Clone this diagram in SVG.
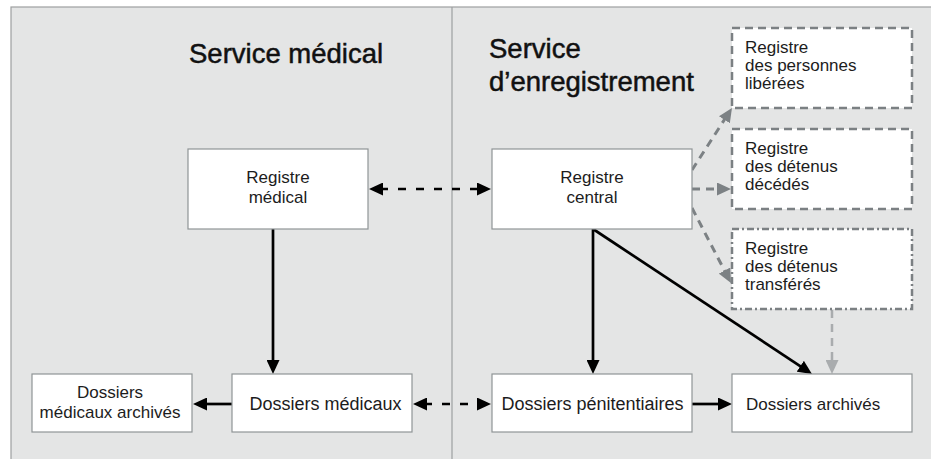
<svg xmlns="http://www.w3.org/2000/svg" width="931" height="459" viewBox="0 0 931 459">
  <defs>
    <style>
      .box { fill: #ffffff; stroke: #8f9496; stroke-width: 1.2; }
      .dbox { fill: #ffffff; stroke: #7b8083; stroke-width: 2.5; stroke-dasharray: 8 5; }
      .ddbox { fill: #ffffff; stroke: #7b8083; stroke-width: 2.5; stroke-dasharray: 7 3 2 3; }
      .t { font-family: "Liberation Sans", Arial, sans-serif; font-size: 17px; fill: #1c1c1c; }
      .title { font-family: "Liberation Sans", Arial, sans-serif; font-size: 27.5px; fill: #111; stroke: #111; stroke-width: 0.5; }
      .solid { fill: none; stroke: #000; stroke-width: 2.7; }
      .bdash { fill: none; stroke: #000; stroke-width: 2.7; stroke-dasharray: 8 10; }
      .gdash { fill: none; stroke: #7c8184; stroke-width: 3; stroke-dasharray: 8 6; }
      .ldash { fill: none; stroke: #a9acae; stroke-width: 2.5; stroke-dasharray: 8 6; }
    </style>
    <marker id="ab" markerUnits="userSpaceOnUse" markerWidth="14" markerHeight="13" refX="3" refY="6.5" orient="auto-start-reverse" viewBox="0 0 14 13">
      <path d="M0,0 L14,6.5 L0,13 z" fill="#000"/>
    </marker>
    <marker id="ag" markerUnits="userSpaceOnUse" markerWidth="14" markerHeight="13" refX="3" refY="6.5" orient="auto" viewBox="0 0 14 13">
      <path d="M0,0 L14,6.5 L0,13 z" fill="#7c8184"/>
    </marker>
    <marker id="al" markerUnits="userSpaceOnUse" markerWidth="14" markerHeight="13" refX="3" refY="6.5" orient="auto" viewBox="0 0 14 13">
      <path d="M0,0 L14,6.5 L0,13 z" fill="#a9acae"/>
    </marker>
  </defs>

  <rect x="0" y="0" width="931" height="459" fill="#ffffff"/>
  <g id="panels">
    <rect x="11" y="7" width="940" height="470" fill="#e4e5e5" stroke="#9d9fa0" stroke-width="1.2"/>
    <line x1="452" y1="7" x2="452" y2="459" stroke="#9d9fa0" stroke-width="1.2"/>
    <text class="title" x="189" y="63">Service médical</text>
    <text class="title" x="489" y="58">Service</text>
    <text class="title" x="489" y="90.5">d’enregistrement</text>
  </g>

  <g id="connectors">
    <line class="bdash" x1="380" y1="189" x2="480" y2="189" marker-start="url(#ab)" marker-end="url(#ab)"/>
    <line class="solid" x1="273" y1="229" x2="273" y2="363" marker-end="url(#ab)"/>
    <line class="solid" x1="232" y1="404" x2="204" y2="404" marker-end="url(#ab)"/>
    <line class="bdash" x1="424" y1="404" x2="480" y2="404" marker-start="url(#ab)" marker-end="url(#ab)"/>
    <line class="solid" x1="593" y1="229" x2="593" y2="363" marker-end="url(#ab)"/>
    <line class="solid" x1="593" y1="229" x2="802.8" y2="367.9" marker-end="url(#ab)"/>
    <line class="solid" x1="692" y1="404" x2="721" y2="404" marker-end="url(#ab)"/>
    <line class="gdash" x1="692" y1="170" x2="726" y2="117.2" marker-end="url(#ag)"/>
    <line class="gdash" x1="692" y1="189" x2="720" y2="189" marker-end="url(#ag)"/>
    <line class="gdash" x1="692" y1="208" x2="725.9" y2="273.2" marker-end="url(#ag)"/>
    <line class="ldash" x1="832" y1="310" x2="832" y2="363" marker-end="url(#al)"/>
  </g>

  <g id="registre-medical">
    <rect class="box" x="188" y="149" width="180" height="80"/>
    <text class="t" x="278" y="183" text-anchor="middle">Registre</text>
    <text class="t" x="278" y="203" text-anchor="middle">médical</text>
  </g>
  <g id="registre-central">
    <rect class="box" x="492" y="149" width="200" height="80"/>
    <text class="t" x="592" y="183" text-anchor="middle">Registre</text>
    <text class="t" x="592" y="203" text-anchor="middle">central</text>
  </g>
  <g id="registre-liberees">
    <rect class="dbox" x="732" y="28" width="180" height="80"/>
    <text class="t" x="745" y="53">Registre</text>
    <text class="t" x="745" y="71">des personnes</text>
    <text class="t" x="745" y="89">libérées</text>
  </g>
  <g id="registre-decedes">
    <rect class="dbox" x="732" y="129" width="180" height="80"/>
    <text class="t" x="745" y="154">Registre</text>
    <text class="t" x="745" y="172">des détenus</text>
    <text class="t" x="745" y="190">décédés</text>
  </g>
  <g id="registre-transferes">
    <rect class="ddbox" x="732" y="229" width="180" height="80"/>
    <text class="t" x="745" y="254">Registre</text>
    <text class="t" x="745" y="272">des détenus</text>
    <text class="t" x="745" y="290">transférés</text>
  </g>
  <g id="dossiers-medicaux-archives">
    <rect class="box" x="32" y="374" width="160" height="58"/>
    <text class="t" x="110" y="398" text-anchor="middle">Dossiers</text>
    <text class="t" x="110" y="418" text-anchor="middle">médicaux archivés</text>
  </g>
  <g id="dossiers-medicaux">
    <rect class="box" x="232" y="374" width="180" height="58"/>
    <text class="t" x="325.5" y="410" text-anchor="middle" style="font-size:18px">Dossiers médicaux</text>
  </g>
  <g id="dossiers-penitentiaires">
    <rect class="box" x="492" y="374" width="200" height="58"/>
    <text class="t" x="592.5" y="410" text-anchor="middle" style="font-size:18px">Dossiers pénitentiaires</text>
  </g>
  <g id="dossiers-archives">
    <rect class="box" x="732" y="374" width="180" height="58"/>
    <text class="t" x="746" y="410">Dossiers archivés</text>
  </g>
</svg>
